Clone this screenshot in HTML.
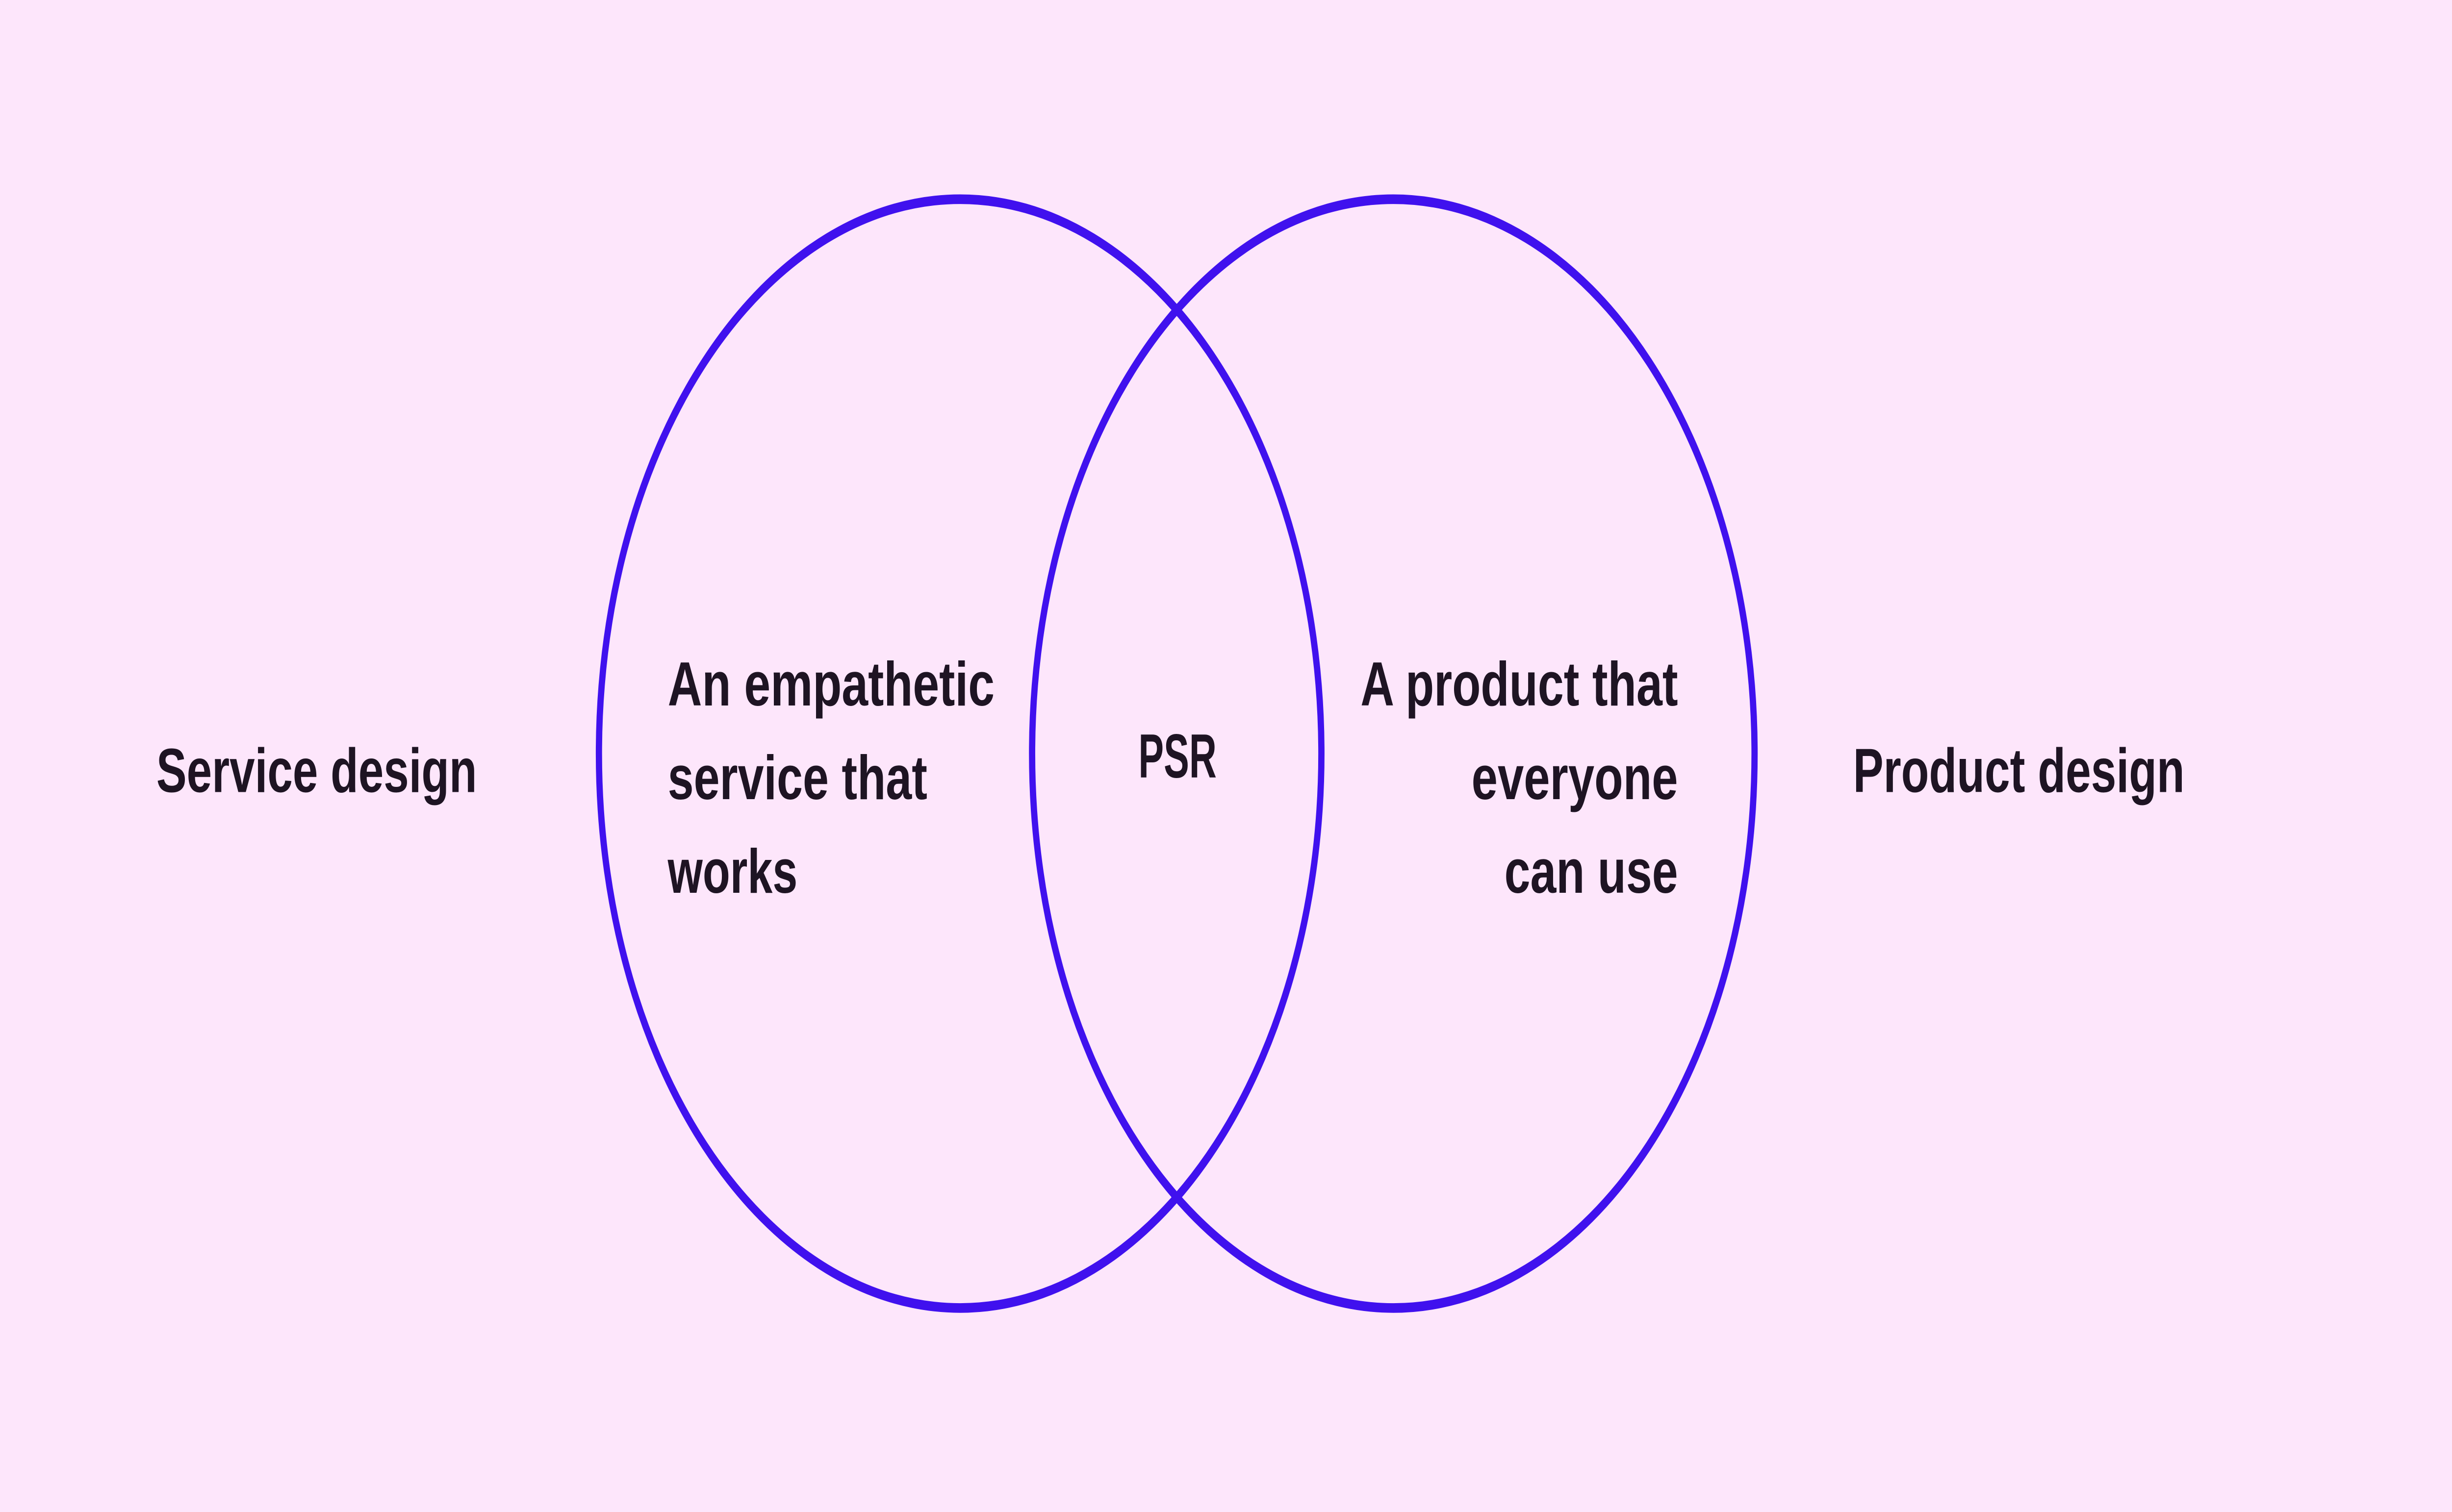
<!DOCTYPE html>
<html><head><meta charset="utf-8"><style>
html,body{margin:0;padding:0;background:#fde6fb;width:100%;height:100%;overflow:hidden;}
svg{display:block;width:100vw;height:100vh;}
text{font-family:"Liberation Sans",sans-serif;font-weight:bold;font-size:26px;fill:#1e1423;}
</style></head><body>
<svg viewBox="0 0 1568 630" preserveAspectRatio="none" xmlns="http://www.w3.org/2000/svg">
<rect width="1568" height="630" fill="#fde6fb"/>
<circle cx="614" cy="314" r="231" fill="none" stroke="#4011ee" stroke-width="4"/>
<circle cx="891" cy="314" r="231" fill="none" stroke="#4011ee" stroke-width="4"/>
<text x="100" y="330" textLength="205" lengthAdjust="spacingAndGlyphs">Service design</text>
<text x="1185" y="330" textLength="212" lengthAdjust="spacingAndGlyphs">Product design</text>
<text x="427" y="294" textLength="209" lengthAdjust="spacingAndGlyphs">An empathetic</text>
<text x="427" y="333" textLength="166" lengthAdjust="spacingAndGlyphs">service that</text>
<text x="427" y="372" textLength="83" lengthAdjust="spacingAndGlyphs">works</text>
<text x="728" y="324" textLength="50" lengthAdjust="spacingAndGlyphs">PSR</text>
<text x="870" y="294" textLength="203" lengthAdjust="spacingAndGlyphs">A product that</text>
<text x="941" y="333" textLength="132" lengthAdjust="spacingAndGlyphs">everyone</text>
<text x="962" y="372" textLength="111" lengthAdjust="spacingAndGlyphs">can use</text>
</svg>
</body></html>
